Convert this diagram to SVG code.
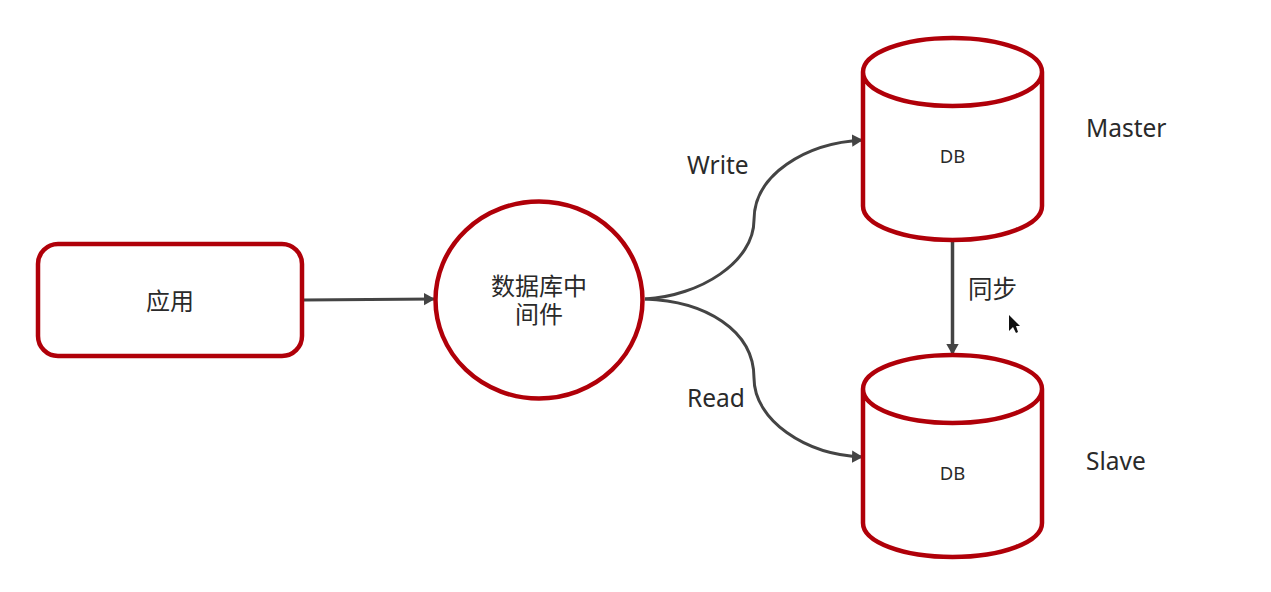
<svg xmlns="http://www.w3.org/2000/svg" width="1271" height="592" viewBox="0 0 1271 592">
<style>
.s{fill:#fff;stroke:#b00009;stroke-width:4.500}
.c{fill:none;stroke:#444;stroke-width:3}
.t{font-family:"Liberation Sans","Noto Sans CJK SC",sans-serif;font-size:24px;fill:#2a2a2a;text-anchor:middle}
.d{font-family:"Noto Sans",sans-serif;font-size:18.500px;fill:#2a2a2a;text-anchor:middle}
.l{font-family:"Noto Sans","Noto Sans CJK SC",sans-serif;font-size:24.500px;fill:#2a2a2a}
</style>
<defs><marker id="a" markerUnits="userSpaceOnUse" markerWidth="14" markerHeight="14" refX="11" refY="7" orient="auto"><path d="M0 0.800L11 7L0 13.200Z" fill="#444"/></marker></defs>
<rect width="1271" height="592" fill="#fff"/>
<g id="connectors">
<path class="c" marker-end="url(#a)" d="M303 300L435 299"/>
<path class="c" marker-end="url(#a)" d="M645 299C700 296 754 262 754 220C754 175 805 143 863 140"/>
<path class="c" marker-end="url(#a)" d="M645 299C705 301 754 330 754 378C754 420 805 455 863 457"/>
<path class="c" style="stroke-width:3.500" marker-end="url(#a)" d="M952.500 241L952.500 355"/>
</g>
<g id="app"><rect class="s" x="38" y="244" width="264" height="112" rx="20"/><text class="t" x="170" y="310">应用</text></g>
<g id="middleware"><ellipse class="s" cx="539" cy="300" rx="103.500" ry="98.500"/><text class="t" x="539" y="295">数据库中<tspan x="539" dy="28">间件</tspan></text></g>
<g id="master"><path class="s" d="M863 72V206C863 225 903 240 952.500 240S1042 225 1042 206V72C1042 53 1002 38 952.500 38S863 53 863 72C863 91 903 106 952.500 106S1042 91 1042 72"/><text class="d" x="952.500" y="163">DB</text></g>
<g id="slave"><path class="s" d="M863 389V523C863 542 903 557 952.500 557S1042 542 1042 523V389C1042 370 1002 355 952.500 355S863 370 863 389C863 408 903 423 952.500 423S1042 408 1042 389"/><text class="d" x="952.500" y="480">DB</text></g>
<g id="labels">
<text class="l" x="687" y="174">Write</text>
<text class="l" x="687" y="407">Read</text>
<text class="l" x="968" y="298">同步</text>
<text class="l" x="1086" y="137">Master</text>
<text class="l" x="1086" y="470">Slave</text>
</g>
<path d="M1009 315L1009 331L1013 327L1016 333L1018 332L1016 326L1020 326Z" fill="#111"/>
</svg>
